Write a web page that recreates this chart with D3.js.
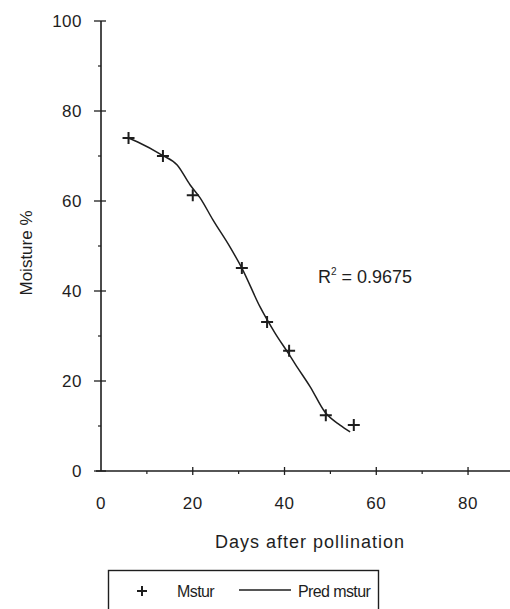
<!DOCTYPE html>
<html>
<head>
<meta charset="utf-8">
<script src="https://cdn.jsdelivr.net/npm/d3@7"></script>
<style>
  body { margin: 0; background: #fff; }
</style>
</head>
<body>
<script>
// observed moisture (Mstur)
const days = [6, 13.5, 20, 30.7, 36.2, 41, 49, 55.1];
const mstur = [74, 70, 61.3, 45.1, 33.1, 26.7, 12.4, 10.2];

// predicted curve (Pred mstur)
const predDays = [6, 8, 13.3, 16.6, 19.4, 21.6, 24.4, 28.1, 30.7, 34.7, 37.9, 41, 42.3, 45.6, 48.8, 52.1, 54.3];
const predMstur = [74, 73.1, 70.2, 68, 63.6, 60.7, 55.8, 49.8, 45.1, 36.4, 30.7, 25.9, 23.8, 18.7, 13.1, 10.2, 8.7];

const xTicks = [0, 20, 40, 60, 80];
const yTicks = [0, 20, 40, 60, 80, 100];
const xMinor = [10, 30, 50, 70, 90];
const yMinor = [10, 30, 50, 70, 90];

let canvasW = 510;
let canvasH = 609;
const font = "Liberation Sans, Arial, sans-serif";
const ink = "#1e1e1e";

let svg = d3.select("body")
  .append("svg")
    .attr("width", canvasW)
    .attr("height", canvasH);

let xScale = d3.scaleLinear()
  .domain([0, 100])
  .range([101, 101 + 458.8]);
let yScale = d3.scaleLinear()
  .domain([0, 100])
  .range([471, 21]);

// x axis
svg.append("line")
  .attr("x1", 96).attr("x2", canvasW)
  .attr("y1", yScale(0)).attr("y2", yScale(0))
  .attr("stroke", ink).attr("stroke-width", 1.6);

svg.selectAll(".xt")
  .data(xTicks.filter(d => d > 0))
  .enter().append("line")
    .attr("x1", d => xScale(d)).attr("x2", d => xScale(d))
    .attr("y1", yScale(0) - 4).attr("y2", yScale(0) + 4)
    .attr("stroke", ink).attr("stroke-width", 1.3);

svg.selectAll(".xm")
  .data(xMinor)
  .enter().append("line")
    .attr("x1", d => xScale(d)).attr("x2", d => xScale(d))
    .attr("y1", yScale(0)).attr("y2", yScale(0) + 3)
    .attr("stroke", ink).attr("stroke-width", 1.2);

svg.selectAll(".xl")
  .data(xTicks)
  .enter().append("text")
    .attr("x", d => xScale(d))
    .attr("y", 509)
    .attr("text-anchor", "middle")
    .attr("font-family", font)
    .attr("font-size", "17px")
    .attr("letter-spacing", "0.5px")
    .attr("fill", ink)
    .text(d => d);

// y axis
svg.append("line")
  .attr("x1", xScale(0)).attr("x2", xScale(0))
  .attr("y1", yScale(100)).attr("y2", yScale(0))
  .attr("stroke", ink).attr("stroke-width", 1.6);

svg.selectAll(".yt")
  .data(yTicks)
  .enter().append("line")
    .attr("x1", xScale(0) - 7).attr("x2", xScale(0) + 5)
    .attr("y1", d => yScale(d)).attr("y2", d => yScale(d))
    .attr("stroke", ink).attr("stroke-width", 1.3);

svg.selectAll(".ym")
  .data(yMinor)
  .enter().append("line")
    .attr("x1", xScale(0) - 3).attr("x2", xScale(0))
    .attr("y1", d => yScale(d)).attr("y2", d => yScale(d))
    .attr("stroke", ink).attr("stroke-width", 1.2);

svg.selectAll(".yl")
  .data(yTicks)
  .enter().append("text")
    .attr("x", 82)
    .attr("y", d => yScale(d) + 6)
    .attr("text-anchor", "end")
    .attr("font-family", font)
    .attr("font-size", "17px")
    .attr("letter-spacing", "0.5px")
    .attr("fill", ink)
    .text(d => d);

// axis titles
svg.append("text")
  .attr("x", 310)
  .attr("y", 548)
  .attr("text-anchor", "middle")
  .attr("font-family", font)
  .attr("font-size", "18px")
  .attr("letter-spacing", "1px")
  .attr("fill", ink)
  .text("Days after pollination");

svg.append("text")
  .attr("text-anchor", "middle")
  .attr("font-family", font)
  .attr("font-size", "17px")
  .attr("fill", ink)
  .attr("transform", "translate(32,253) rotate(-90)")
  .text("Moisture %");

// predicted line
let line = d3.line()
  .x(d => xScale(d[0]))
  .y(d => yScale(d[1]))
  .curve(d3.curveMonotoneX);

svg.append("path")
  .datum(predDays.map((d, i) => [d, predMstur[i]]))
  .attr("d", line)
  .attr("fill", "none")
  .attr("stroke", ink)
  .attr("stroke-width", 1.5);

// observed crosses
svg.selectAll(".pt")
  .data(days.map((d, i) => [d, mstur[i]]))
  .enter().append("path")
    .attr("transform", d => "translate(" + xScale(d[0]) + "," + yScale(d[1]) + ")")
    .attr("d", "M-6,0H6M0,-6V6")
    .attr("stroke", ink)
    .attr("stroke-width", 2)
    .attr("fill", "none");

// R squared
let r2 = svg.append("text")
  .attr("x", 318)
  .attr("y", 283)
  .attr("font-family", font)
  .attr("font-size", "18px")
  .attr("fill", ink);
r2.append("tspan").text("R");
r2.append("tspan").attr("font-size", "10px").attr("dy", -8).text("2");
r2.append("tspan").attr("dy", 8).text(" = 0.9675");

// legend
svg.append("rect")
  .attr("x", 108.5).attr("y", 570.5)
  .attr("width", 270).attr("height", 50)
  .attr("fill", "none")
  .attr("stroke", ink)
  .attr("stroke-width", 1.4);

svg.append("path")
  .attr("transform", "translate(142,591)")
  .attr("d", "M-5,0H5M0,-5V5")
  .attr("stroke", ink)
  .attr("stroke-width", 2);

svg.append("text")
  .attr("x", 177).attr("y", 597)
  .attr("font-family", font)
  .attr("font-size", "16px")
  .attr("letter-spacing", "-0.6px")
  .attr("fill", ink)
  .text("Mstur");

svg.append("line")
  .attr("x1", 239).attr("x2", 291)
  .attr("y1", 590).attr("y2", 590)
  .attr("stroke", ink)
  .attr("stroke-width", 1.3);

svg.append("text")
  .attr("x", 298).attr("y", 597)
  .attr("font-family", font)
  .attr("font-size", "16px")
  .attr("letter-spacing", "-0.6px")
  .attr("fill", ink)
  .text("Pred mstur");
</script>
</body>
</html>
